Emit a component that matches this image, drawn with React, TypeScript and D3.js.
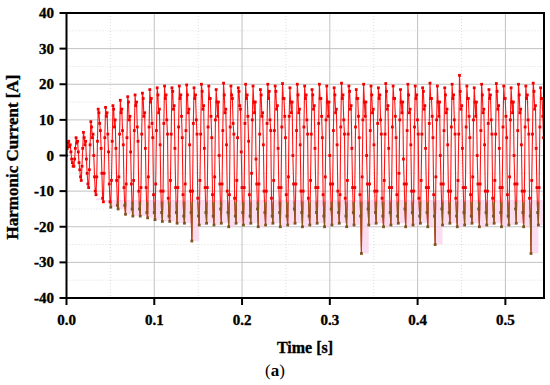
import React, { useEffect, useRef } from "react";
import * as d3 from "d3";

// per-cycle samples: trough, rise, rise, peak, then falling samples
const cycles: number[][] = [
  [0, 2, 3.5, 4, 2.5, 3, 1, -1, -2, -3],
  [-3, -1, 2, 5, 3.5, 4, 1, -2, -4, -6],
  [-7, -3, 2, 6.5, 5, 3, 4, -1, -5, -8],
  [-9, -4, 3, 9.5, 8, 5, 6, 0, -6, -10],
  [-11, -6, 4, 13, 12, 9, 7, 2, -5, -12],
  [-13, -5, 5, 13.5, 11, 12, 6, 1, -8, -13],
  [-14.5, -7, 4, 14, 13, 8, 10, 2, -7, -14],
  [-15, -6, 6, 15.5, 12, 13, 7, 3, -9, -14],
  [-16.5, -8, 5, 16.5, 15, 10, 11, 1, -8, -15],
  [-17, -7, 7, 17, 14, 15, 8, 4, -10, -15],
  [-17, -9, 6, 17.5, 16, 11, 12, 2, -9, -16],
  [-17.5, -6, 8, 18.5, 15, 16, 9, 5, -11, -16],
  [-18, -8, 7, 19, 17, 12, 13, 3, -10, -16],
  [-18.5, -10, 9, 19.5, 16, 17, 10, 6, -12, -17],
  [-18.5, -7, 6, 19, 18, 13, 14, 2, -9, -16],
  [-19, -9, 8, 19.5, 16, 17, 11, 5, -11, -17],
  [-19, -8, 7, 19.8, 17, 12, 13, 3, -10, -16],
  [-24, -10, 9, 19, 16, 17, 10, 6, -12, -17],
  [-19.5, -7, 6, 20, 18, 13, 14, 2, -9, -16],
  [-19, -9, 8, 19.5, 16, 16, 11, 5, -11, -17],
  [-19.5, -6, 10, 18.5, 15, 11, 15, 0, -8, -15],
  [-19, -8, 7, 20.3, 17, 12, 13, 3, -10, -16],
  [-20, -11, 8, 19.5, 17, 16, 9, 6, -12, -17],
  [-19, -7, 5, 19, 18, 14, 13, 1, -9, -16],
  [-19.5, -9, 9, 20, 16, 17, 11, 4, -11, -17],
  [-19, -5, 10, 19.5, 15, 12, 15, -1, -8, -15],
  [-20, -8, 6, 18.5, 17, 11, 12, 3, -10, -16],
  [-19.5, -10, 9, 20, 16, 18, 10, 7, -12, -17],
  [-19, -7, 7, 19.5, 18, 13, 14, 2, -9, -16],
  [-20, -9, 8, 20.2, 16, 16, 11, 5, -11, -17],
  [-19.5, -6, 11, 19, 15, 12, 15, 0, -8, -15],
  [-19, -8, 7, 20, 17, 12, 13, 3, -10, -16],
  [-20, -10, 8, 19.5, 16, 17, 10, 6, -12, -17],
  [-19.5, -7, 6, 18.5, 17, 13, 14, 2, -9, -16],
  [-19, -9, 9, 20, 16, 16, 11, 5, -11, -17],
  [-20, -6, 10, 19.5, 15, 11, 15, 0, -8, -15],
  [-19.5, -8, 7, 19, 17, 12, 13, 3, -10, -16],
  [-19, -11, 8, 20.3, 16, 17, 10, 6, -12, -17],
  [-20, -7, 6, 19.5, 18, 13, 14, 2, -9, -16],
  [-19.5, -9, 8, 18.5, 16, 16, 11, 5, -11, -17],
  [-27.5, -6, 10, 20, 15, 11, 15, 0, -8, -15],
  [-19.5, -8, 7, 19.5, 17, 12, 13, 3, -10, -16],
  [-19, -10, 9, 19, 16, 17, 10, 6, -12, -17],
  [-20, -7, 6, 20.2, 18, 13, 14, 2, -9, -16],
  [-19.5, -9, 8, 19.5, 16, 16, 11, 5, -11, -17],
  [-19, -5, 10, 18.5, 15, 12, 15, -1, -8, -15],
  [-20, -8, 7, 20, 17, 12, 13, 3, -10, -16],
  [-19.5, -10, 8, 19.5, 16, 17, 10, 6, -12, -17],
  [-19, -7, 6, 19, 18, 13, 14, 2, -9, -16],
  [-20, -9, 9, 20.3, 16, 16, 11, 5, -11, -17],
  [-25, -6, 10, 19.5, 15, 11, 15, 0, -8, -15],
  [-19.5, -8, 7, 19, 17, 12, 13, 3, -10, -16],
  [-19, -10, 8, 20, 16, 17, 10, 6, -12, -17],
  [-20, -7, 6, 22.5, 18, 13, 14, 2, -9, -16],
  [-19.5, -9, 8, 19.5, 16, 16, 11, 5, -11, -17],
  [-19, -6, 10, 19, 15, 11, 15, 0, -8, -15],
  [-20, -8, 7, 20, 17, 12, 13, 3, -10, -16],
  [-19.5, -10, 9, 18.5, 16, 17, 10, 6, -12, -17],
  [-19, -7, 6, 20.2, 18, 13, 14, 2, -9, -16],
  [-20, -9, 8, 19.5, 16, 16, 11, 5, -11, -17],
  [-19.5, -6, 10, 19, 15, 12, 15, 0, -8, -15],
  [-19, -8, 7, 20, 17, 12, 13, 3, -10, -16],
  [-20, -10, 8, 19.5, 16, 17, 10, 6, -12, -17],
  [-27.5, -7, 6, 20.3, 18, 13, 14, 2, -9, -16],
  [-19.5, -9, 8, 19, 16, 16, 11, 5, -11, -17],
];
const CYCLE_PERIOD = 0.0084; // s
const xTicks = [0, 0.1, 0.2, 0.3, 0.4, 0.5];
const yTicks = [-40, -30, -20, -10, 0, 10, 20, 30, 40];
const xMinor = [0.05, 0.15, 0.25, 0.35, 0.45];
const yMinor = [-35, -25, -15, -5, 5, 15, 25, 35];
const X_MAX = 0.544;
const BROWN_BELOW = -13;
const BAND_TOP = -12.5;
const BAND_START_CYCLE = 4;

export default function App() {
  const ref = useRef<SVGSVGElement>(null);
  useEffect(() => {
    const svg = d3.select(ref.current);
    svg.selectAll("*").remove();
    const W = 550, H = 385;
    const m = { l: 66.5, r: 6, t: 13, b: 87 };
    const x = d3.scaleLinear().domain([0, X_MAX]).range([m.l, W - m.r]);
    const y = d3.scaleLinear().domain([-40, 40]).range([H - m.b, m.t]);
    const n = cycles[0].length;
    const dt = CYCLE_PERIOD / n;
    const pts: { t: number; v: number }[] = [];
    cycles.forEach((c, i) => c.forEach((v, j) => pts.push({ t: i * CYCLE_PERIOD + j * dt, v })));

    const defs = svg.append("defs");
    defs.append("clipPath").attr("id", "plotclip").append("rect")
      .attr("x", x(0)).attr("y", y(40)).attr("width", x(X_MAX) - x(0)).attr("height", y(-40) - y(40));
    defs.append("clipPath").attr("id", "brownclip").append("rect")
      .attr("x", x(0)).attr("y", y(BROWN_BELOW)).attr("width", x(X_MAX) - x(0)).attr("height", y(-40) - y(BROWN_BELOW));

    const font = "'Liberation Serif', 'Times New Roman', serif";

    // grid
    svg.append("g").selectAll("line").data(yMinor).join("line")
      .attr("x1", x(0)).attr("x2", x(X_MAX)).attr("y1", d => y(d)).attr("y2", d => y(d))
      .attr("stroke", "#d4d4d4").attr("stroke-width", 0.8).attr("stroke-dasharray", "1,2");
    svg.append("g").selectAll("line").data(xMinor).join("line")
      .attr("y1", y(40)).attr("y2", y(-40)).attr("x1", d => x(d)).attr("x2", d => x(d))
      .attr("stroke", "#d4d4d4").attr("stroke-width", 0.8).attr("stroke-dasharray", "1,2");
    svg.append("g").selectAll("line").data(yTicks).join("line")
      .attr("x1", x(0)).attr("x2", x(X_MAX)).attr("y1", d => y(d)).attr("y2", d => y(d))
      .attr("stroke", "#c2c2c2").attr("stroke-width", 1);
    svg.append("g").selectAll("line").data(xTicks).join("line")
      .attr("y1", y(40)).attr("y2", y(-40)).attr("x1", d => x(d)).attr("x2", d => x(d))
      .attr("stroke", "#c2c2c2").attr("stroke-width", 1);

    const plot = svg.append("g").attr("clip-path", "url(#plotclip)");

    // pink band under the troughs
    const bandData = cycles.map((c, i) => ({ t: i * CYCLE_PERIOD, lo: d3.min(c) as number }))
      .filter((d, i) => i >= BAND_START_CYCLE);
    bandData.push({ t: cycles.length * CYCLE_PERIOD, lo: bandData[bandData.length - 1].lo });
    const area = d3.area<{ t: number; lo: number }>()
      .x(d => x(d.t)).y0(d => y(d.lo)).y1(y(BAND_TOP)).curve(d3.curveStepAfter);
    plot.append("path").attr("d", area(bandData) as string).attr("fill", "#fad2ee").attr("opacity", 0.75);

    const line = d3.line<{ t: number; v: number }>().x(d => x(d.t)).y(d => y(d.v));
    plot.append("path").attr("d", line(pts) as string).attr("fill", "none").attr("stroke", "#ff1414").attr("stroke-width", 1.1);
    plot.append("g").attr("clip-path", "url(#brownclip)").append("path").attr("d", line(pts) as string)
      .attr("fill", "none").attr("stroke", "#8a5a1c").attr("stroke-width", 1.1);
    const s = 2.8;
    plot.append("g").selectAll("rect").data(pts).join("rect")
      .attr("x", d => x(d.t) - s / 2).attr("y", d => y(d.v) - s / 2).attr("width", s).attr("height", s)
      .attr("fill", d => (d.v < BROWN_BELOW ? "#7d5520" : "#f00000"));

    // frame
    svg.append("rect").attr("x", x(0)).attr("y", y(40)).attr("width", x(X_MAX) - x(0)).attr("height", y(-40) - y(40))
      .attr("fill", "none").attr("stroke", "#000").attr("stroke-width", 2);

    // ticks
    svg.append("g").selectAll("line").data(xTicks).join("line")
      .attr("x1", d => x(d)).attr("x2", d => x(d)).attr("y1", y(-40)).attr("y2", y(-40) + 7)
      .attr("stroke", "#000").attr("stroke-width", 2);
    svg.append("g").selectAll("line").data(yTicks).join("line")
      .attr("y1", d => y(d)).attr("y2", d => y(d)).attr("x1", x(0)).attr("x2", x(0) - 7)
      .attr("stroke", "#000").attr("stroke-width", 2);
    const txt = (sel: any) => sel.attr("font-family", font).attr("font-weight", "bold")
      .attr("stroke", "#000").attr("stroke-width", 0.35).attr("fill", "#000");
    svg.append("g").selectAll("text").data(xTicks).join("text")
      .attr("x", d => x(d)).attr("y", 325).attr("text-anchor", "middle").attr("font-size", 15)
      .call(txt).text(d => d3.format(".1f")(d));
    svg.append("g").selectAll("text").data(yTicks).join("text")
      .attr("x", 54).attr("y", d => y(d) + 5).attr("text-anchor", "end").attr("font-size", 15)
      .call(txt).text(d => String(d));

    svg.append("text").attr("x", 305).attr("y", 353).attr("text-anchor", "middle").attr("font-size", 16)
      .call(txt).text("Time [s]");
    svg.append("text").attr("transform", `translate(18,157) rotate(-90)`).attr("text-anchor", "middle")
      .attr("font-size", 17).call(txt).text("Harmonic Current [A]");
    const a = svg.append("text").attr("x", 275).attr("y", 376).attr("text-anchor", "middle")
      .attr("font-family", font).attr("font-size", 17).attr("fill", "#000");
    a.append("tspan").text("(");
    a.append("tspan").attr("font-weight", "bold").text("a");
    a.append("tspan").text(")");
  }, []);
  return (
    <svg ref={ref} width={550} height={385} style={{ position: "absolute", left: 0, top: 0, background: "#fff" }} />
  );
}
